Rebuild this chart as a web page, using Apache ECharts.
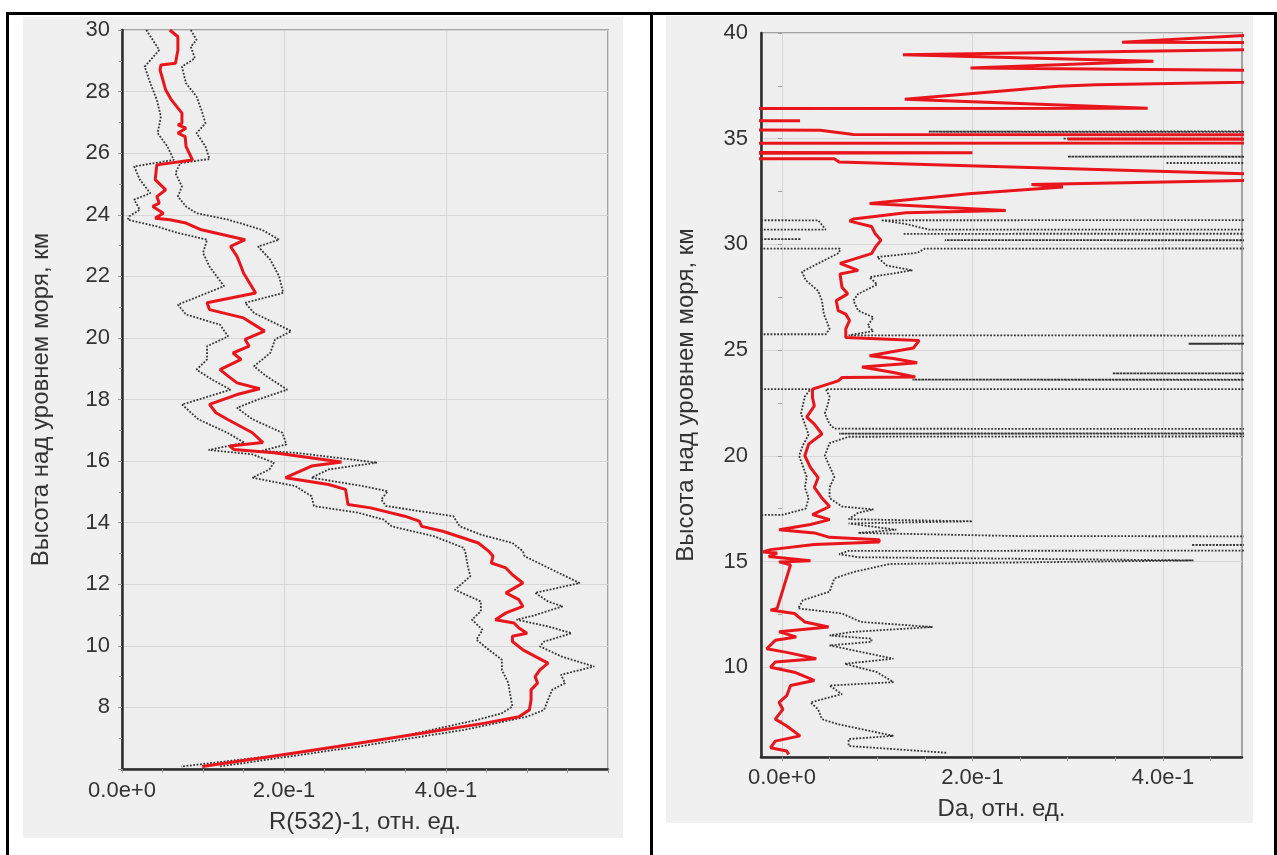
<!DOCTYPE html>
<html>
<head>
<meta charset="utf-8">
<script src="https://cdn.jsdelivr.net/npm/echarts@6/dist/echarts.min.js"></script>
<style>
  html, body { margin: 0; padding: 0; background: #fff; }
  #chart { width: 1277px; height: 855px; }
</style>
</head>
<body>
<div id="chart"></div>
<script>
// profiles are [altitude km, value]

// left panel: R(532)-1
const rMean = [
  [30.0, 0.059], [29.78, 0.069], [29.35, 0.069], [28.92, 0.066], [28.86, 0.048], [28.7, 0.047],
  [28.05, 0.054], [27.73, 0.061], [27.3, 0.074], [26.97, 0.074], [26.92, 0.069], [26.81, 0.079],
  [26.65, 0.069], [26.54, 0.078], [26.22, 0.079], [25.78, 0.087], [25.62, 0.043], [25.14, 0.041],
  [24.81, 0.054], [24.59, 0.043], [24.38, 0.046], [24.27, 0.038], [24.05, 0.051], [23.89, 0.041],
  [23.84, 0.059], [23.73, 0.079], [23.51, 0.098], [23.19, 0.152], [22.97, 0.134], [22.65, 0.142],
  [22.32, 0.147], [22.11, 0.15], [21.46, 0.165], [21.14, 0.105], [20.92, 0.108], [20.65, 0.15],
  [20.22, 0.176], [19.95, 0.152], [19.73, 0.157], [19.51, 0.137], [19.3, 0.147], [18.97, 0.121],
  [18.76, 0.131], [18.54, 0.142], [18.35, 0.17], [18.16, 0.142], [17.84, 0.108], [17.57, 0.116],
  [17.36, 0.13], [16.92, 0.161], [16.6, 0.174], [16.49, 0.133], [16.38, 0.138], [16.27, 0.1875],
  [15.97, 0.271], [15.84, 0.234], [15.46, 0.202], [15.24, 0.255], [15.08, 0.276], [14.59, 0.279],
  [14.48, 0.307], [14.21, 0.349], [14.05, 0.367], [13.88, 0.37], [13.72, 0.396], [13.34, 0.44],
  [13.07, 0.453], [12.91, 0.458], [12.69, 0.456], [12.53, 0.474], [12.31, 0.482], [12.04, 0.495],
  [11.72, 0.474], [11.5, 0.49], [11.28, 0.495], [11.07, 0.474], [10.85, 0.461], [10.74, 0.484],
  [10.58, 0.49], [10.41, 0.5], [10.31, 0.482], [10.14, 0.482], [9.87, 0.495], [9.66, 0.51],
  [9.44, 0.526], [9.22, 0.516], [9.0, 0.51], [8.79, 0.513], [8.57, 0.505], [8.25, 0.505],
  [7.92, 0.503], [7.7, 0.49], [7.49, 0.448], [7.16, 0.37], [6.73, 0.266], [6.4, 0.182], [6.08, 0.099]
];
const rLow = [
  [30.0, 0.03], [29.35, 0.046], [28.81, 0.028], [28.27, 0.035], [27.73, 0.043], [27.19, 0.048],
  [26.65, 0.044], [26.22, 0.056], [25.78, 0.064], [25.57, 0.015], [25.14, 0.022], [24.7, 0.035],
  [24.49, 0.015], [24.16, 0.022], [23.95, 0.009], [23.84, 0.007], [23.62, 0.043], [23.41, 0.069],
  [23.19, 0.105], [22.76, 0.1], [22.32, 0.108], [21.68, 0.126], [21.08, 0.069], [20.76, 0.079],
  [20.43, 0.121], [20.05, 0.131], [19.73, 0.105], [19.3, 0.105], [18.97, 0.092], [18.65, 0.111],
  [18.32, 0.134], [18.0, 0.095], [17.84, 0.074], [17.36, 0.094], [16.92, 0.13], [16.6, 0.151],
  [16.36, 0.107], [16.22, 0.161], [15.95, 0.1875], [15.73, 0.182], [15.46, 0.161], [15.19, 0.214],
  [14.86, 0.234], [14.54, 0.237], [14.32, 0.292], [14.1, 0.323], [13.88, 0.333], [13.56, 0.385],
  [13.18, 0.422], [13.02, 0.424], [12.58, 0.427], [12.26, 0.43], [11.82, 0.411], [11.44, 0.443],
  [11.12, 0.443], [10.85, 0.432], [10.52, 0.445], [10.2, 0.4375], [9.87, 0.453], [9.55, 0.469],
  [9.22, 0.469], [8.79, 0.477], [8.46, 0.479], [8.03, 0.482], [7.81, 0.469], [7.59, 0.4375],
  [7.05, 0.344], [6.51, 0.214], [6.08, 0.073]
];
const rHigh = [
  [30.0, 0.085], [29.68, 0.092], [29.46, 0.085], [29.08, 0.09], [28.81, 0.074], [28.27, 0.079],
  [27.84, 0.092], [27.41, 0.098], [26.97, 0.103], [26.65, 0.092], [26.22, 0.103], [25.81, 0.108],
  [25.68, 0.072], [25.35, 0.066], [24.92, 0.074], [24.59, 0.069], [24.27, 0.079], [24.05, 0.092],
  [23.84, 0.131], [23.51, 0.173], [23.19, 0.194], [22.97, 0.168], [22.54, 0.183], [22.0, 0.194],
  [21.46, 0.199], [21.14, 0.152], [20.81, 0.163], [20.22, 0.209], [19.95, 0.189], [19.51, 0.183],
  [19.08, 0.163], [18.76, 0.178], [18.32, 0.204], [18.0, 0.168], [17.73, 0.142], [17.36, 0.161],
  [16.92, 0.198], [16.54, 0.203], [16.33, 0.172], [16.27, 0.214], [15.95, 0.315], [15.73, 0.255],
  [15.46, 0.234], [15.19, 0.297], [15.02, 0.328], [14.75, 0.32], [14.54, 0.326], [14.21, 0.409],
  [13.88, 0.417], [13.61, 0.443], [13.34, 0.482], [13.07, 0.495], [12.91, 0.497], [12.37, 0.539],
  [12.04, 0.565], [11.72, 0.51], [11.44, 0.526], [11.28, 0.544], [10.96, 0.505], [10.85, 0.487],
  [10.63, 0.526], [10.41, 0.555], [10.14, 0.521], [9.98, 0.516], [9.66, 0.542], [9.33, 0.583],
  [9.06, 0.542], [8.79, 0.547], [8.57, 0.531], [8.25, 0.526], [7.92, 0.521], [7.7, 0.5],
  [7.27, 0.422], [6.73, 0.292], [6.08, 0.12]
];

// right panel: Da (values far outside the axis are clipped by the grid)
const daMean = [
  [40.05, 0.6], [39.92, 0.5], [39.56, 0.357], [39.5, 0.9], [39.42, 0.9], [39.3, 0.62],
  [38.97, 0.127], [38.66, 0.39], [38.34, 0.198], [38.1, 0.9], [37.97, 0.9], [37.55, 0.33],
  [37.48, 0.29], [36.87, 0.129], [36.44, 0.384], [36.4, -0.6], [35.9, -0.6], [35.85, 0.019],
  [35.8, -0.6], [35.5, -0.6], [35.4, 0.04], [35.2, 0.075], [35.1, 3], [35.02, 3], [34.98, 0.3],
  [34.92, 3], [34.82, 3], [34.78, -1], [34.4, -1], [34.33, 0.2], [34.25, -1], [34.1, -1],
  [34.05, 0.055], [33.9, 0.06], [33.3, 0.52], [33.2, 3], [33.1, 3], [33.04, 0.5], [32.83, 0.262],
  [32.72, 0.295], [32.4, 0.196], [31.93, 0.092], [31.6, 0.235], [31.5, 0.13], [31.2, 0.075],
  [31.1, 0.071], [30.85, 0.094], [30.5, 0.098], [30.2, 0.104], [29.87, 0.098], [29.56, 0.094],
  [29.1, 0.061], [28.77, 0.08], [28.6, 0.061], [27.97, 0.063], [27.66, 0.069], [27.34, 0.057],
  [26.87, 0.059], [26.7, 0.067], [26.4, 0.071], [26.0, 0.067], [25.6, 0.067], [25.45, 0.144],
  [25.1, 0.138], [24.73, 0.092], [24.6, 0.117], [24.4, 0.142], [24.2, 0.084], [23.94, 0.117],
  [23.73, 0.14], [23.7, 0.063], [23.54, 0.059], [23.15, 0.032], [22.76, 0.032], [22.36, 0.034],
  [21.83, 0.026], [21.5, 0.034], [21.03, 0.042], [20.55, 0.028], [20.0, 0.024], [19.44, 0.03],
  [18.97, 0.038], [18.5, 0.034], [18.0, 0.042], [17.6, 0.05], [17.22, 0.032], [16.98, 0.05],
  [16.75, 0.03], [16.5, -0.003], [16.35, 0.034], [16.14, 0.05], [16.03, 0.102], [15.92, 0.102],
  [15.8, 0.034], [15.56, -0.012], [15.45, -0.02], [15.4, -0.005], [15.24, -0.014], [15.03, 0.03],
  [14.98, -0.003], [14.84, 0.009], [12.78, -0.005], [12.7, -0.012], [12.54, 0.013], [12.14, 0.024],
  [11.9, 0.049], [11.67, -0.003], [11.43, 0.015], [11.27, -0.007], [10.87, -0.016], [10.7, 0.005],
  [10.4, 0.036], [10.24, -0.007], [10.0, -0.012], [9.76, 0.013], [9.37, 0.034], [9.13, 0.009],
  [8.65, 0.005], [8.33, -0.003], [8.0, 0.001], [7.54, -0.007], [7.22, 0.005], [6.75, 0.019],
  [6.5, -0.007], [6.19, -0.012], [6.03, 0.005], [5.87, 0.007]
];
const daHigh = [
  [40.0, 3], [35.45, 3], [35.33, 0.154], [35.25, 3], [35.06, 3], [35.0, 0.295], [34.95, 3],
  [34.2, 3], [34.15, 0.3], [34.1, 3], [33.9, 3], [33.85, 0.403], [33.8, 3], [31.2, 3],
  [31.14, 0.104], [30.98, 0.129], [30.7, 0.154], [30.65, 3], [30.55, 3], [30.5, 0.127],
  [30.45, 3], [30.25, 3], [30.2, 0.171], [30.15, 3], [29.85, 3], [29.8, 0.15], [29.6, 0.142],
  [29.4, 0.1], [29.0, 0.11], [28.77, 0.137], [28.45, 0.092], [28.1, 0.1], [27.66, 0.08],
  [27.34, 0.075], [26.87, 0.08], [26.55, 0.096], [26.15, 0.09], [25.9, 0.096], [25.7, 0.07],
  [25.6, 3], [25.35, 3], [25.3, 0.427], [25.25, 3], [23.95, 3], [23.9, 0.347], [23.85, 3],
  [23.65, 3], [23.6, 0.137], [23.55, 3], [23.2, 3], [23.15, 0.046], [22.8, 0.05], [22.4, 0.048],
  [22.0, 0.045], [21.5, 0.05], [21.28, 0.055], [21.22, 3], [21.12, 3], [21.05, 0.06], [21.0, 3],
  [20.95, 3], [20.9, 0.07], [20.6, 0.05], [20.0, 0.045], [19.5, 0.05], [19.0, 0.055], [18.5, 0.05],
  [18.0, 0.05], [17.6, 0.063], [17.46, 0.096], [17.3, 0.08], [17.0, 0.07], [16.9, 0.2],
  [16.8, 0.07], [16.5, 0.12], [16.35, 0.08], [16.2, 0.25], [16.08, 3], [15.9, 3], [15.78, 0.43],
  [15.72, 3], [15.6, 3], [15.5, 0.07], [15.35, 0.06], [15.2, 0.08], [15.05, 0.432], [14.88, 0.113],
  [14.5, 0.075], [14.2, 0.055], [13.57, 0.05], [13.17, 0.022], [12.78, 0.017], [12.54, 0.063],
  [12.14, 0.083], [11.9, 0.158], [11.67, 0.075], [11.5, 0.05], [11.35, 0.094], [11.2, 0.094],
  [11.03, 0.05], [10.56, 0.1], [10.4, 0.117], [10.16, 0.066], [9.76, 0.1], [9.29, 0.117],
  [9.13, 0.05], [8.73, 0.063], [8.33, 0.03], [8.0, 0.038], [7.54, 0.042], [7.3, 0.059],
  [6.75, 0.117], [6.6, 0.07], [6.27, 0.07], [5.95, 0.173]
];
const daLow = [
  [40.0, -3], [31.2, -3], [31.14, 0.038], [30.7, 0.046], [30.65, -3], [30.3, -3], [30.25, 0.02],
  [30.2, -3], [29.85, -3], [29.8, 0.061], [29.6, 0.06], [29.1, 0.038], [28.7, 0.021], [28.3, 0.025],
  [27.8, 0.038], [27.34, 0.042], [26.7, 0.044], [26.0, 0.05], [25.75, 0.046], [25.65, -3],
  [23.2, -3], [23.15, 0.03], [22.8, 0.024], [22.4, 0.022], [22.0, 0.02], [21.5, 0.024],
  [21.0, 0.028], [20.5, 0.022], [20.0, 0.018], [19.5, 0.022], [19.0, 0.026], [18.5, 0.024],
  [18.0, 0.028], [17.5, 0.025], [17.2, 0.0], [17.1, -3], [5.8, -3]
];

// tick values for the right panel
const daLabelTicks = [0, 0.2, 0.4];
const daMinorTicks = [0, 0.05, 0.1, 0.15, 0.2, 0.25, 0.3, 0.35, 0.4, 0.45];
const altLabelTicks = [10, 15, 20, 25, 30, 35, 40];
const altMinorTicks = [7.5, 10, 12.5, 15, 17.5, 20, 22.5, 25, 27.5, 30, 32.5, 35, 37.5, 40];

const FONT = 'Liberation Sans, Arial, sans-serif';
const TXT = '#333';
const fmtExp = (v) => Number(v).toExponential(1);
const toXY = (arr) => arr.map(p => [p[1], p[0]]);

const chart = echarts.init(document.getElementById('chart'));

function redLine(name, data, xi) {
  return {
    name: name, type: 'line', xAxisIndex: xi, yAxisIndex: xi,
    data: toXY(data), showSymbol: false, clip: true, z: 4,
    lineStyle: { color: '#e8161c', width: 3 }
  };
}
function dotLine(name, data, xi) {
  return {
    name: name, type: 'line', xAxisIndex: xi, yAxisIndex: xi,
    data: toXY(data), showSymbol: false, clip: true, z: 3,
    lineStyle: { color: '#333', width: 1.8, type: [1.8, 1.6] }
  };
}

const axisLine = { show: true, onZero: false, lineStyle: { color: '#2b2b2b', width: 2.5 } };
const splitLine = { show: true, lineStyle: { color: '#d6d6d6', width: 1 } };
const tick = { show: true, length: 4, lineStyle: { color: '#9a9a9a' } };
const labelStyle = { fontFamily: FONT, fontSize: 22, color: TXT };
const nameStyle = { fontFamily: FONT, fontSize: 24, color: TXT };

chart.setOption({
  animation: false,
  graphic: [
    // grey panels
    { type: 'rect', shape: { x: 23, y: 17, width: 600, height: 821 }, style: { fill: '#f0f0f0' }, z: -10 },
    { type: 'rect', shape: { x: 666, y: 16, width: 587, height: 807 }, style: { fill: '#f0f0f0' }, z: -10 },
    // table lines
    { type: 'rect', shape: { x: 6, y: 12, width: 1271, height: 3 }, style: { fill: '#000' }, z: -5 },
    { type: 'rect', shape: { x: 6, y: 12, width: 3, height: 843 }, style: { fill: '#000' }, z: -5 },
    { type: 'rect', shape: { x: 650, y: 12, width: 3, height: 843 }, style: { fill: '#000' }, z: -5 },
    { type: 'rect', shape: { x: 1274, y: 12, width: 3, height: 843 }, style: { fill: '#000' }, z: -5 }
  ],
  grid: [
    { left: 122, top: 30, width: 486, height: 739, show: true, backgroundColor: '#eeeeee',
      borderColor: '#a3a3a3', borderWidth: 2 },
    { left: 761, top: 33, width: 481, height: 724, show: true, backgroundColor: '#eeeeee',
      borderColor: '#a3a3a3', borderWidth: 2 }
  ],
  xAxis: [
    { type: 'value', gridIndex: 0, min: 0, max: 0.6, interval: 0.2,
      name: 'R(532)-1, отн. ед.', nameLocation: 'middle', nameGap: 41, nameTextStyle: nameStyle,
      axisLine: axisLine, splitLine: splitLine, axisTick: tick,
      minorTick: { show: true, splitNumber: 4, length: 4, lineStyle: { color: '#9a9a9a' } },
      axisLabel: Object.assign({ margin: 11, showMaxLabel: false, formatter: fmtExp }, labelStyle) },
    { type: 'value', gridIndex: 1, min: -0.022, max: 0.483, position: 'bottom',
      name: 'Da, отн. ед.', nameLocation: 'middle', nameGap: 40, nameTextStyle: nameStyle,
      axisLine: axisLine, splitLine: splitLine,
      axisTick: { show: false, customValues: daLabelTicks },
      axisLabel: Object.assign({ margin: 10, customValues: daLabelTicks, formatter: fmtExp }, labelStyle) },
    { type: 'value', gridIndex: 1, min: -0.022, max: 0.483, position: 'bottom',
      axisLine: { show: false }, splitLine: { show: false }, axisLabel: { show: false },
      axisTick: Object.assign({ customValues: daMinorTicks }, tick) }
  ],
  yAxis: [
    { type: 'value', gridIndex: 0, min: 6, max: 30, interval: 2,
      name: 'Высота над уровнем моря, км', nameLocation: 'middle', nameGap: 69, nameTextStyle: nameStyle,
      axisLine: axisLine, splitLine: splitLine, axisTick: tick,
      minorTick: { show: true, splitNumber: 2, length: 3, lineStyle: { color: '#9a9a9a' } },
      axisLabel: Object.assign({ margin: 12, showMinLabel: false }, labelStyle) },
    { type: 'value', gridIndex: 1, min: 5.75, max: 40, position: 'left',
      name: 'Высота над уровнем моря, км', nameLocation: 'middle', nameGap: 63, nameTextStyle: nameStyle,
      axisLine: axisLine, splitLine: splitLine,
      axisTick: { show: false, customValues: altLabelTicks },
      axisLabel: Object.assign({ margin: 13, customValues: altLabelTicks }, labelStyle) },
    { type: 'value', gridIndex: 1, min: 5.75, max: 40, position: 'left',
      axisLine: { show: false }, splitLine: { show: false }, axisLabel: { show: false },
      axisTick: Object.assign({ customValues: altMinorTicks }, tick) }
  ],
  series: [
    dotLine('R low', rLow, 0),
    dotLine('R high', rHigh, 0),
    redLine('R(532)-1', rMean, 0),
    dotLine('Da low', daLow, 1),
    dotLine('Da high', daHigh, 1),
    redLine('Da', daMean, 1)
  ]
});
</script>
</body>
</html>
